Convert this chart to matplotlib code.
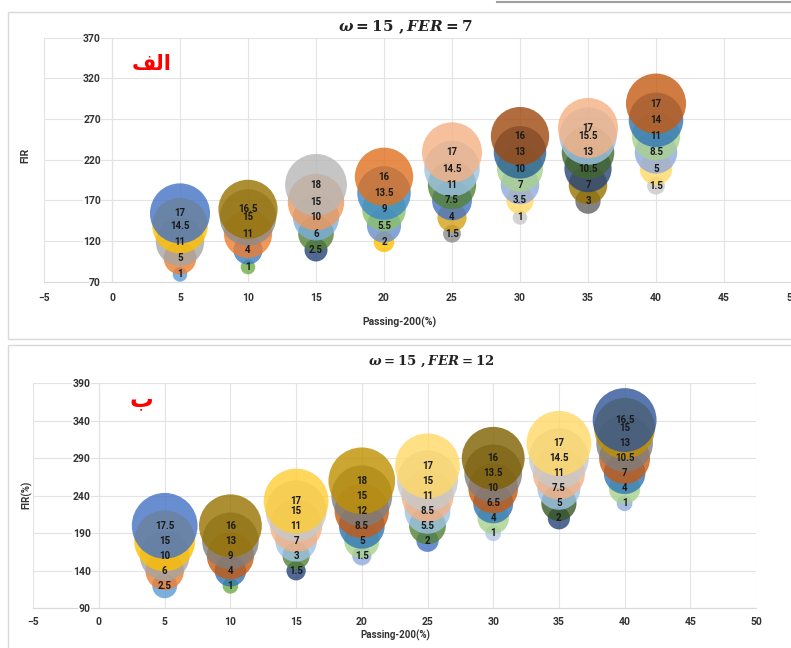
import matplotlib
matplotlib.use('Agg')
import matplotlib.pyplot as plt
from matplotlib.patches import Rectangle
from matplotlib.lines import Line2D

plt.rcParams['font.family'] = ['Roboto', 'DejaVu Sans']
plt.rcParams['font.weight'] = 'bold'
plt.rcParams['mathtext.fontset'] = 'custom'
plt.rcParams['mathtext.it'] = 'DejaVu Serif:italic:bold'
plt.rcParams['mathtext.rm'] = 'DejaVu Serif:bold'
plt.rcParams['mathtext.bf'] = 'DejaVu Serif:bold'

# passing-200 groups (same for both charts)
passing = [5, 10, 15, 20, 25, 30, 35, 40]

# chart A : w = 15, FER = 7
fir_a = [[79, 99, 119, 139, 154],
         [88, 109, 129, 149, 159],
         [109, 129, 149, 168, 189],
         [119, 139, 159, 179, 199],
         [129, 149, 170, 189, 209, 229],
         [149, 170, 189, 209, 229, 249],
         [169, 189, 209, 229, 249, 259],
         [188, 209, 229, 249, 269, 289]]
size_a = [[1, 5, 11, 14.5, 17],
          [1, 4, 11, 15, 16.5],
          [2.5, 6, 10, 15, 18],
          [2, 5.5, 9, 13.5, 16],
          [1.5, 4, 7.5, 11, 14.5, 17],
          [1, 3.5, 7, 10, 13, 16],
          [3, 7, 10.5, 13, 15.5, 17],
          [1.5, 5, 8.5, 11, 14, 17]]

# chart B : w = 15, FER = 12
fir_b = [[120, 140, 160, 180, 200],
         [120, 140, 160, 180, 200],
         [140, 160, 180, 200, 220, 233],
         [160, 180, 200, 220, 240, 260],
         [180, 200, 220, 240, 260, 280],
         [190, 210, 230, 250, 270, 290],
         [210, 230, 250, 270, 290, 310],
         [230, 250, 270, 290, 310, 330, 341]]
size_b = [[2.5, 6, 10, 15, 17.5],
          [1, 4, 9, 13, 16],
          [1.5, 3, 7, 11, 15, 17],
          [1.5, 5, 8.5, 12, 15, 18],
          [2, 5.5, 8.5, 11, 15, 17],
          [1, 4, 6.5, 10, 13.5, 16],
          [2, 5, 7.5, 11, 14.5, 17],
          [1, 4, 7, 10.5, 13, 15, 16.5]]

colors_a = [['#5B9BD5', '#ED7D31', '#A5A5A5', '#FFC000', '#4472C4'],
            ['#70AD47', '#3C7DC0', '#ED7D31', '#8C8C8C', '#997300'],
            ['#264478', '#548235', '#7CAFDD', '#F1975A', '#B7B7B7'],
            ['#FFC000', '#698ED0', '#8CC168', '#3A87C8', '#E0701F'],
            ['#8C8C8C', '#D4A017', '#4472C4', '#548235', '#9DC3E6', '#F4B183'],
            ['#C9C9C9', '#FFD966', '#8FAADC', '#A9D18E', '#255E91', '#9E480E'],
            ['#636363', '#997300', '#264478', '#43682B', '#9DC3E6', '#F4B183'],
            ['#C9C9C9', '#FFD966', '#8FAADC', '#A9D18E', '#2E75B6', '#C55A11']]

colors_b = [['#5B9BD5', '#ED7D31', '#A5A5A5', '#FFC000', '#4472C4'],
            ['#70AD47', '#2E75B6', '#C55A11', '#7F7F7F', '#997300'],
            ['#264478', '#548235', '#9DC3E6', '#F4B183', '#C9C9C9', '#FFCD33'],
            ['#8FAADC', '#A9D18E', '#2E75B6', '#C55A11', '#7F7F7F', '#BF9000'],
            ['#4472C4', '#548235', '#9DC3E6', '#F4B183', '#C9C9C9', '#FFD966'],
            ['#B4C7E7', '#A9D18E', '#2E75B6', '#C55A11', '#7F7F7F', '#7F6000'],
            ['#264478', '#385723', '#9DC3E6', '#F4B183', '#C9C9C9', '#FFD966'],
            ['#8FAADC', '#A9D18E', '#2E75B6', '#C55A11', '#7F7F7F', '#BF9000', '#2F5597']]


def panel(ax, fir, size, colors, ymin, ymax, scale, pad):
    for x, ys, ss, cc in zip(passing, fir, size, colors):
        ax.scatter([x] * len(ys), ys, s=[v * scale for v in ss], c=cc,
                   alpha=0.8, linewidths=0, zorder=3)
        for y, v in zip(ys, ss):
            ax.text(x, y, '{:g}'.format(v), ha='center', va='center',
                    fontsize=7, color='#1a1a1a', zorder=5)
    ax.set_xlim(-5, 50)
    ax.set_ylim(ymin, ymax)
    ax.set_xticks(range(-5, 51, 5))
    ax.set_yticks(range(ymin, ymax + 1, 50))
    ax.grid(True, color='#E3E3E3', lw=0.8)
    ax.set_axisbelow(True)
    ax.spines['top'].set_visible(False)
    ax.spines['right'].set_visible(False)
    ax.spines['left'].set_position(('data', 0))
    ax.spines['left'].set_color('#D9D9D9')
    ax.spines['bottom'].set_color('#D9D9D9')
    ax.spines['bottom'].set_zorder(0.2)
    ax.spines['left'].set_zorder(0.2)
    ax.tick_params(length=0, labelsize=7.5, colors='#333333', pad=pad)
    for lbl in ax.get_yticklabels():
        lbl.set_bbox(dict(fc='white', ec='none', pad=0.3))
    ax.set_facecolor('none')


fig = plt.figure(figsize=(7.91, 6.48), dpi=100)
W, H = 791, 648

# panel frames
fig.add_artist(Rectangle((8 / W, 1 - 339 / H), 800 / W, 327 / H, transform=fig.transFigure,
                         fill=False, ec='#D9D9D9', lw=1))
fig.add_artist(Rectangle((8 / W, 1 - 660 / H), 800 / W, 315 / H, transform=fig.transFigure,
                         fill=False, ec='#D9D9D9', lw=1))
fig.add_artist(Line2D([497 / W, 1], [1 - 1.5 / H, 1 - 1.5 / H], transform=fig.transFigure,
                      color='#A0A0A0', lw=1.5))

ax1 = fig.add_axes([44 / W, 1 - 281.7 / H, 748 / W, 244 / H])
panel(ax1, fir_a, size_a, colors_a, 70, 370, 110, 8)
ax2 = fig.add_axes([33.3 / W, 1 - 608.3 / H, 722.7 / W, 225 / H])
panel(ax2, fir_b, size_b, colors_b, 90, 390, 128, 6)

fig.text(405 / W, 1 - 27 / H, r'$\omega = 15\ ,FER = 7$', ha='center', va='center',
         fontsize=11, color='#222222')
fig.text(431 / W, 1 - 361 / H, r'$\omega = 15\ ,FER = 12$', ha='center', va='center',
         fontsize=9.5, color='#222222')

fig.text(400 / W, 1 - 322 / H, 'Passing-200(%)', ha='center', va='center',
         fontsize=7.5, color='#333333')
fig.text(395 / W, 1 - 635 / H, 'Passing-200(%)', ha='center', va='center',
         fontsize=7, color='#333333')
fig.text(25 / W, 1 - 155 / H, 'FIR', ha='center', va='center', rotation=90,
         fontsize=7.5, color='#333333')
fig.text(27 / W, 1 - 495 / H, 'FIR(%)', ha='center', va='center', rotation=90,
         fontsize=7, color='#333333')

# "الف" and "ب" written with arabic presentation forms (matplotlib does no shaping)
fig.text(152 / W, 1 - 64 / H, '\uFED2\uFEDF\uFE8D', ha='center', va='center',
         fontsize=15, color='#FF0000', family='DejaVu Sans')
fig.text(141 / W, 1 - 399 / H, 'ب', ha='center', va='center',
         fontsize=17, color='#FF0000', family='DejaVu Sans')

fig.savefig('out.png', dpi=100)
